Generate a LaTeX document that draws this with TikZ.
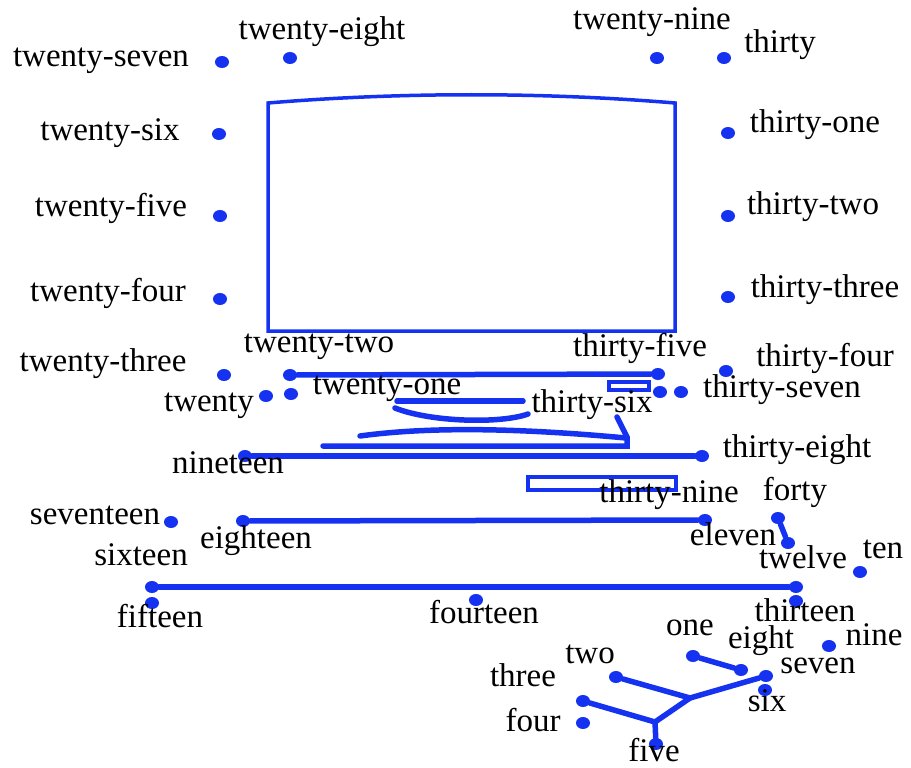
\documentclass[tikz,border=0pt]{standalone}
\usepackage{fontspec}
\setmainfont{Liberation Serif}
\usetikzlibrary{shapes.geometric}
\definecolor{pcblue}{RGB}{20,50,240}

\begin{document}
\begin{tikzpicture}[%
            x=1pt, y=-1pt,
            dot/.style={ellipse, fill=pcblue, inner sep=0pt, minimum width=14pt, minimum height=12pt},
            txt/.style={inner sep=0pt, font=\fontsize{33}{34}\selectfont},
            bar/.style={draw=pcblue, line width=5.5pt, line cap=round},
            frame/.style={draw=pcblue, line width=3.5pt}
            ]
            \useasboundingbox (0,0) rectangle (911,768);

            % screen and base
            \draw[frame] (268,331) -- (268,103) .. controls (400,92) and (543,92) .. (675,103) -- (675,331) -- cycle;
            \draw[frame] (609,382) rectangle (649,390);
            \draw[frame] (528,477) rectangle (676,490);
            \draw[bar] (397,401) -- (523,401);
            \draw[bar] (395,408) .. controls (430,422) and (500,424) .. (528,414);
            \draw[bar] (360,436) .. controls (440,425) and (540,430) .. (626,438);
            \draw[bar] (617,417) -- (627,437) -- (627,446) -- (323,446);

            % dots
            \node[dot] (1)  at (693,656) {};
            \node[dot] (2)  at (616,677) {};
            \node[dot] (3)  at (583,701) {};
            \node[dot] (4)  at (583,723) {};
            \node[dot] (5)  at (656,744) {};
            \node[dot] (6)  at (765,690) {};
            \node[dot] (7)  at (766,676) {};
            \node[dot] (8)  at (741,670) {};
            \node[dot] (9)  at (829,646) {};
            \node[dot] (10) at (860,572) {};
            \node[dot] (11) at (705,520) {};
            \node[dot] (12) at (788,543) {};
            \node[dot] (13) at (796,601) {};
            \node[dot] (14) at (476,600) {};
            \node[dot] (15) at (152,603) {};
            \node[dot] (16) at (152,587) {};
            \node[dot] (17) at (171,522) {};
            \node[dot] (18) at (243,521) {};
            \node[dot] (19) at (245,456) {};
            \node[dot] (20) at (266,396) {};
            \node[dot] (21) at (291,394) {};
            \node[dot] (22) at (290,375) {};
            \node[dot] (23) at (224,375) {};
            \node[dot] (24) at (220,299) {};
            \node[dot] (25) at (220,216) {};
            \node[dot] (26) at (219,134) {};
            \node[dot] (27) at (222,62)  {};
            \node[dot] (28) at (290,58)  {};
            \node[dot] (29) at (657,58)  {};
            \node[dot] (30) at (724,58)  {};
            \node[dot] (31) at (728,133) {};
            \node[dot] (32) at (728,216) {};
            \node[dot] (33) at (728,297) {};
            \node[dot] (34) at (726,371) {};
            \node[dot] (35) at (658,374) {};
            \node[dot] (36) at (660,392) {};
            \node[dot] (37) at (681,392) {};
            \node[dot] (38) at (702,456) {};
            \node[dot] (40) at (778,518) {};
            \node[dot] (41) at (796,587) {};

            % keyboard, desk and tree
            \coordinate (j1) at (690,698);
            \coordinate (j2) at (655,722);
            \draw[bar] (22) -- (35);
            \draw[bar] (19) -- (38);
            \draw[bar] (18) -- (11);
            \draw[bar] (16) -- (41);
            \draw[bar] (40) -- (12);
            \draw[bar] (1) -- (8);
            \draw[bar] (2) -- (j1) -- (7);
            \draw[bar] (j1) -- (j2) -- (5);
            \draw[bar] (3) -- (j2);

            % labels
            \node[txt] (t1)  at (690,628) {one};
            \node[txt] (t2)  at (590,654) {two};
            \node[txt] (t3)  at (523,675) {three};
            \node[txt] (t4)  at (533,720) {four};
            \node[txt] (t5)  at (654,750) {five};
            \node[txt] (t6)  at (767,701) {six};
            \node[txt] (t7)  at (818,666) {seven};
            \node[txt] (t8)  at (761,641) {eight};
            \node[txt] (t9)  at (874,635) {nine};
            \node[txt] (t10) at (883,549) {ten};
            \node[txt] (t11) at (733,534) {eleven};
            \node[txt] (t12) at (803,557) {twelve};
            \node[txt] (t13) at (805,610) {thirteen};
            \node[txt] (t14) at (484,612) {fourteen};
            \node[txt] (t15) at (160,616) {fifteen};
            \node[txt] (t16) at (141,555) {sixteen};
            \node[txt] (t17) at (95,515)  {seventeen};
            \node[txt] (t18) at (256,541) {eighteen};
            \node[txt] (t19) at (228,463) {nineteen};
            \node[txt] (t20) at (209,406) {twenty};
            \node[txt] (t21) at (387,389) {twenty-one};
            \node[txt] (t22) at (319,347) {twenty-two};
            \node[txt] (t23) at (103,364) {twenty-three};
            \node[txt] (t24) at (108,293) {twenty-four};
            \node[txt] (t25) at (111,208) {twenty-five};
            \node[txt] (t26) at (110,133) {twenty-six};
            \node[txt] (t27) at (101,61)  {twenty-seven};
            \node[txt] (t28) at (322,32)  {twenty-eight};
            \node[txt] (t29) at (652,22)  {twenty-nine};
            \node[txt] (t30) at (780,45)  {thirty};
            \node[txt] (t31) at (815,125) {thirty-one};
            \node[txt] (t32) at (813,207) {thirty-two};
            \node[txt] (t33) at (825,290) {thirty-three};
            \node[txt] (t34) at (825,358) {thirty-four};
            \node[txt] (t35) at (640,348) {thirty-five};
            \node[txt] (t36) at (592,405) {thirty-six};
            \node[txt] (t37) at (782,390) {thirty-seven};
            \node[txt] (t38) at (797,450) {thirty-eight};
            \node[txt] (t39) at (669,495) {thirty-nine};
            \node[txt] (t40) at (795,492) {forty};

        \end{tikzpicture}
\end{document}
